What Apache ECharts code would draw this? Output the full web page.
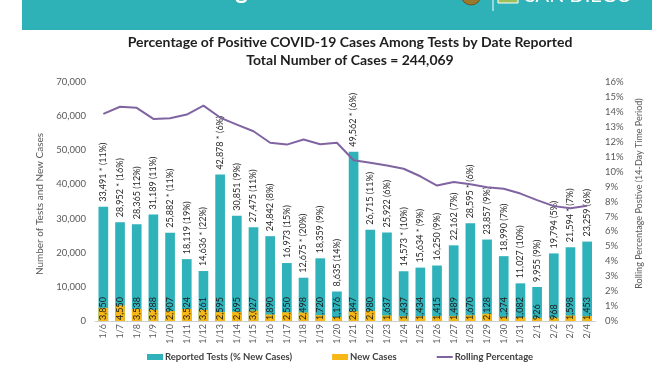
<!DOCTYPE html>
<html><head><meta charset="utf-8">
<script src="https://cdn.jsdelivr.net/npm/echarts@6/dist/echarts.min.js"></script>
<style>html,body{margin:0;padding:0;background:#fff}#c{width:672px;height:372px}</style>
</head><body><div id="c"></div>
<script>
const categories = ['1/6','1/7','1/8','1/9','1/10','1/11','1/12','1/13','1/14','1/15','1/16','1/17','1/18','1/19','1/20','1/21','1/22','1/23','1/24','1/25','1/26','1/27','1/28','1/29','1/30','1/31','2/1','2/2','2/3','2/4'];
const reportedTests = [33491,28952,28365,31189,25882,18119,14636,42878,30851,27475,24842,16973,12675,18359,8635,49562,26715,25922,14573,15634,16250,22162,28595,23857,18990,11027,9955,19794,21594,23259];
const pctNewCases = [11,16,12,11,11,19,22,6,9,11,8,15,20,9,14,6,11,6,10,9,9,7,6,9,7,10,9,5,7,6];
const starred = [1,1,0,0,1,0,1,1,0,0,0,0,1,0,0,1,0,0,1,1,0,0,1,0,0,0,0,0,1,0];
const newCases = [3850,4550,3538,3288,2907,3524,3261,2595,2695,3027,1890,2550,2498,1720,1176,2847,2980,1637,1437,1434,1415,1489,1670,2128,1274,1082,926,968,1598,1453];
const rollingPct = [13.87,14.34,14.27,13.53,13.57,13.82,14.42,13.62,13.15,12.7,11.93,11.81,12.15,11.83,11.93,10.76,10.59,10.41,10.19,9.69,9.07,9.3,9.15,8.96,8.85,8.53,8.09,7.69,7.55,7.71];
const leftTicks = {min:0, max:70000, interval:10000};
const rightTicks = {min:0, max:16, interval:1};

const FONT = 'Lato';
const fmt = n => n.toLocaleString('en-US');
const chart = echarts.init(document.getElementById('c'), null, {renderer:'canvas'});
chart.setOption({
  animation:false,
  textStyle:{fontFamily:FONT},
  title:{
    text:'Percentage of Positive COVID-19 Cases Among Tests by Date Reported\nTotal Number of Cases = 244,069',
    left:350, top:33, textAlign:'center', padding:0,
    textStyle:{fontFamily:FONT, fontSize:14, fontWeight:'bold', color:'#1e1e1e', lineHeight:18}
  },
  graphic:[
    {type:'rect', shape:{x:22,y:0,width:630,height:30}, style:{fill:'#2FB1B8'}, silent:true, z:-1},
    {type:'text', x:248, y:-9, style:{text:'Testing', font:'bold 24px Lato', fill:'#fff', align:'right', verticalAlign:'middle'}},
    {type:'circle', shape:{cx:471, cy:-5, r:10}, style:{fill:'#9a7a2a', stroke:'#6b5520', lineWidth:1}},
    {type:'rect', shape:{x:492.5,y:0,width:1,height:11}, style:{fill:'#fff'}},
    {type:'rect', shape:{x:498,y:-6,width:20,height:9}, style:{fill:'#9fbf5a', stroke:'#fff', lineWidth:1}},
    {type:'text', x:525, y:-4, style:{text:'SAN DIEGO', font:'20px Lato', fill:'#fff', align:'left', verticalAlign:'middle'}}
  ],
  grid:{left:95, right:76.5, top:82, bottom:51, containLabel:false},
  legend:{
    left:142, top:347, itemWidth:16, itemHeight:6, itemGap:40,
    textStyle:{fontFamily:FONT, fontSize:9.5, fontWeight:'bold', color:'#404040', padding:[0,0,0,-3]},
    data:[
      {name:'Reported Tests (% New Cases)', icon:'rect'},
      {name:'New Cases', icon:'rect'},
      {name:'Rolling Percentage', icon:'path://M0,0L0.01,0L0.01,0.01Z M0,2L16,2L16,4L0,4Z M16,6L15.99,6L15.99,5.99Z'}
    ]
  },
  xAxis:{
    type:'category', data:categories,
    axisLine:{lineStyle:{color:'#d0d0d0'}}, axisTick:{show:false},
    axisLabel:{rotate:90, interval:0, margin:3, fontSize:9, color:'#595959', fontFamily:FONT}
  },
  yAxis:[
    {type:'value', min:leftTicks.min, max:leftTicks.max, interval:leftTicks.interval,
     name:'Number of Tests and New Cases', nameLocation:'middle', nameGap:50, nameRotate:90,
     nameTextStyle:{fontSize:10, color:'#595959', fontFamily:FONT, padding:[0,5,0,0]},
     axisLine:{show:false}, axisTick:{show:false}, splitLine:{show:false},
     axisLabel:{margin:9, fontSize:9.5, color:'#595959', fontFamily:FONT, formatter:v=>fmt(v)}},
    {type:'value', min:rightTicks.min, max:rightTicks.max, interval:rightTicks.interval, position:'right',
     name:'Rolling Percentage Postive (14-Day Time Period)', nameLocation:'middle', nameGap:37, nameRotate:90,
     nameTextStyle:{fontSize:9, color:'#595959', fontFamily:FONT, padding:[0,0,0,16]},
     axisLine:{show:false}, axisTick:{show:false}, splitLine:{show:false},
     axisLabel:{margin:9.5, fontSize:9.5, color:'#595959', fontFamily:FONT, formatter:'{value}%'}}
  ],
  series:[
    {name:'Reported Tests (% New Cases)', type:'bar', data:reportedTests, barWidth:'58%', barGap:'-100%',
     itemStyle:{color:'#2FB2BA'},
     label:{show:true, position:'top', rotate:90, align:'left', verticalAlign:'middle', distance:5,
            fontSize:9, color:'#262626', fontFamily:FONT,
            formatter:p=>fmt(p.value)+(starred[p.dataIndex]?' * ':' ')+'('+pctNewCases[p.dataIndex]+'%)'}},
    {name:'New Cases', type:'bar', data:newCases, barWidth:'58%', barGap:'-100%',
     itemStyle:{color:'#F6B816'},
     label:{show:true, position:'insideBottom', rotate:90, align:'left', verticalAlign:'middle', distance:1,
            fontSize:9, color:'#1a1a1a', fontFamily:FONT, formatter:p=>fmt(p.value)}},
    {name:'Rolling Percentage', type:'line', yAxisIndex:1, data:rollingPct, symbol:'none',
     lineStyle:{color:'#8064A2', width:2}, itemStyle:{color:'#8064A2'}, z:5}
  ]
});
</script></body></html>
